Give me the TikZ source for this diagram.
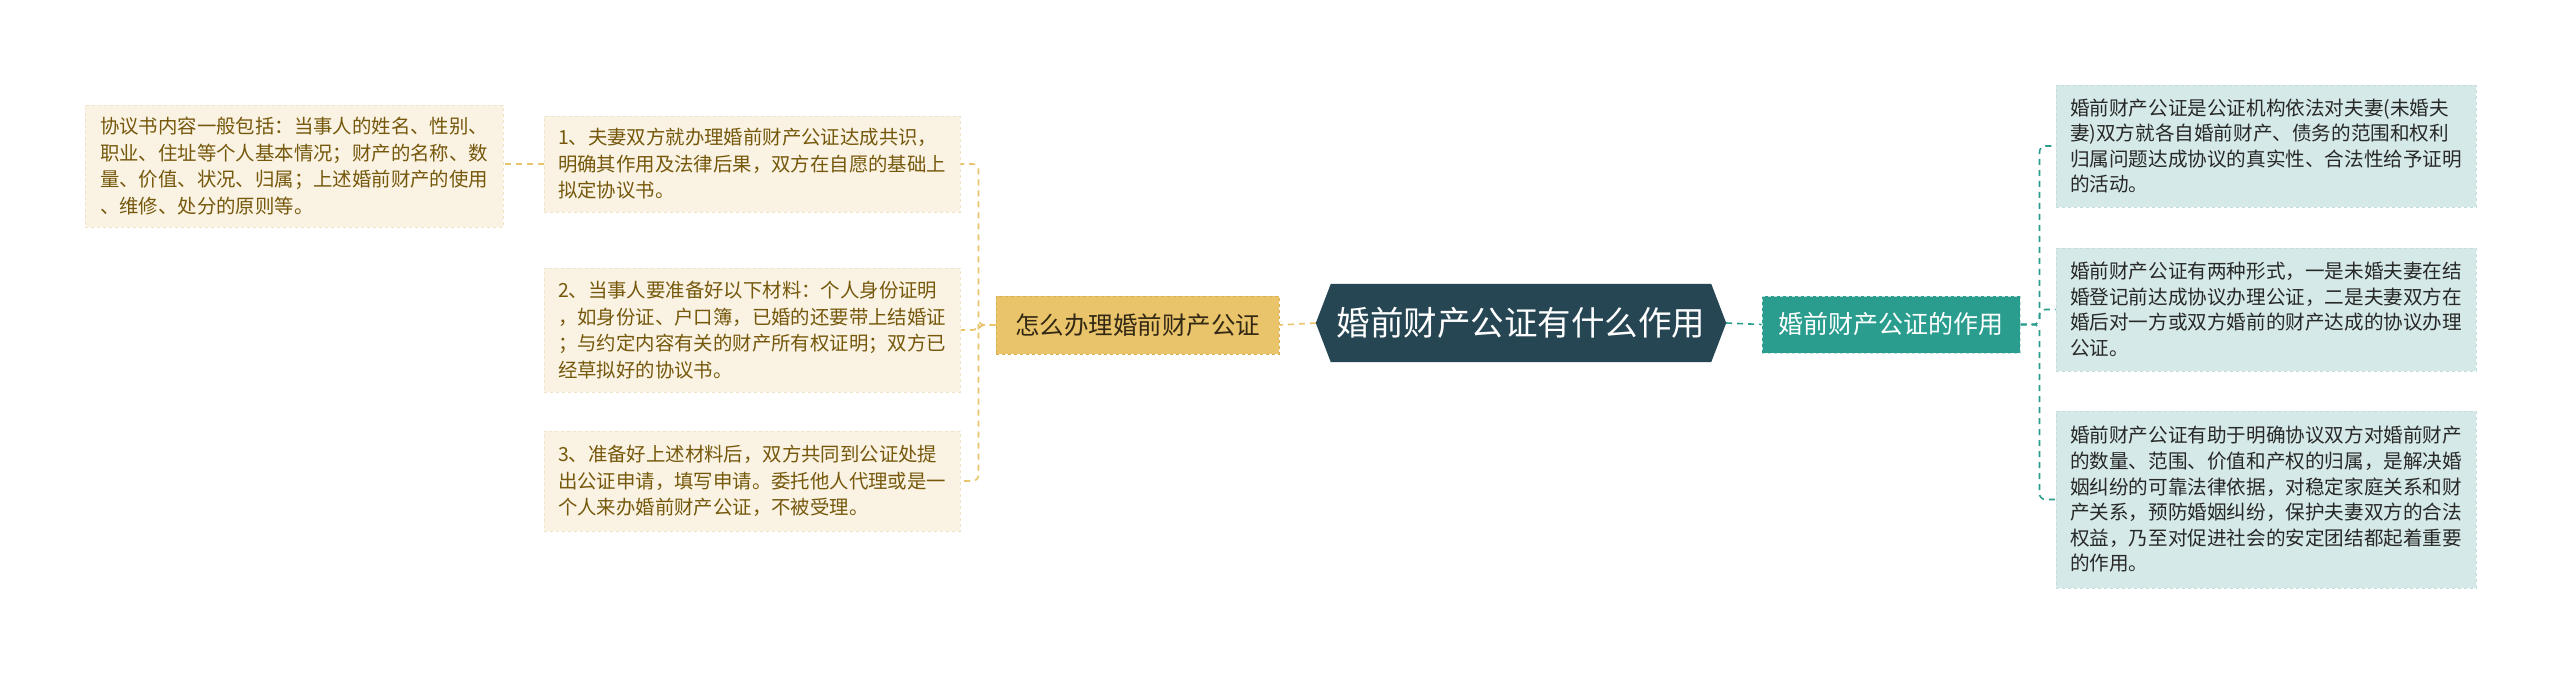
\documentclass[tikz,border=0pt]{standalone}
\usepackage{fontspec}
\setmainfont{Noto Sans CJK SC}
\usetikzlibrary{backgrounds}
\definecolor{rootc}{HTML}{264653}
\definecolor{tealc}{HTML}{2A9D8F}
\definecolor{yelc}{HTML}{E9C46A}
\definecolor{yelb}{HTML}{D9AE4E}
\definecolor{cream}{RGB}{250,243,227}
\definecolor{creamb}{RGB}{240,228,200}
\definecolor{ltext}{RGB}{118,88,12}
\definecolor{rfill}{RGB}{213,234,232}
\definecolor{rborder}{RGB}{195,222,219}
\definecolor{rtext}{RGB}{40,40,40}
\definecolor{ytext}{RGB}{50,40,20}
\begin{document}
\begin{tikzpicture}[x=1pt,y=-1pt,
  lbox/.style={fill=cream, draw=creamb, dashed, line width=1pt, text=ltext,
    font=\fontsize{19.4}{26.5}\selectfont, align=left, inner sep=0pt,
    minimum width=416pt},
  rbox/.style={fill=rfill, draw=rborder, dashed, line width=1pt, text=rtext,
    font=\fontsize{19.6}{25.6}\selectfont, align=left, inner sep=0pt,
    minimum width=420pt},
  yelnode/.style={fill=yelc, draw=yelb, dashed, line width=1pt, text=ytext,
    font=\fontsize{24.5}{28}\selectfont, inner sep=0pt,
    minimum width=283pt, minimum height=58pt},
  tealnode/.style={fill=tealc, draw=white!70!tealc, dashed, line width=1pt, text=white,
    font=\fontsize{25}{28}\selectfont, inner sep=0pt,
    minimum width=258pt, minimum height=57pt},
  rootnode/.style={text=white, font=\fontsize{33.5}{36}\selectfont, inner sep=0pt,
    minimum width=410pt, minimum height=78pt},
  lconn/.style={draw=yelc, dashed, line width=1.6pt, dash pattern=on 6pt off 5pt},
  rconn/.style={draw=tealc, dashed, line width=1.6pt, dash pattern=on 6pt off 5pt},
]
\useasboundingbox (0,0) rectangle (2560,675);

% root
\node[rootnode] (root) at (1521,323) {婚前财产公证有什么作用};
\begin{scope}[on background layer]
\fill[white] (0,0) rectangle (2560,675);
\fill[rootc] (root.west) -- ([xshift=15pt]root.north west) -- ([xshift=-15pt]root.north east)
  -- (root.east) -- ([xshift=-15pt]root.south east) -- ([xshift=15pt]root.south west) -- cycle;
\end{scope}

% left branch
\node[yelnode] (yel) at (1137.5,325) {怎么办理婚前财产公证};
\node[lbox, minimum height=96pt] (b1) at (752,164) {1、夫妻双方就办理婚前财产公证达成共识，\\明确其作用及法律后果，双方在自愿的基础上\\拟定协议书。};
\node[lbox, minimum height=124pt] (b2) at (752,330) {2、当事人要准备好以下材料：个人身份证明\\，如身份证、户口簿，已婚的还要带上结婚证\\；与约定内容有关的财产所有权证明；双方已\\经草拟好的协议书。};
\node[lbox, minimum height=100pt] (b3) at (752,481) {3、准备好上述材料后，双方共同到公证处提\\出公证申请，填写申请。委托他人代理或是一\\个人来办婚前财产公证，不被受理。};
\node[lbox, minimum width=418pt, minimum height=122pt] (lb) at (294,166) {协议书内容一般包括：当事人的姓名、性别、\\职业、住址等个人基本情况；财产的名称、数\\量、价值、状况、归属；上述婚前财产的使用\\、维修、处分的原则等。};

% right branch
\node[tealnode] (teal) at (1891,324.5) {婚前财产公证的作用};
\node[rbox, minimum height=122pt] (r1) at (2266,146) {婚前财产公证是公证机构依法对夫妻(未婚夫\\妻)双方就各自婚前财产、债务的范围和权利\\归属问题达成协议的真实性、合法性给予证明\\的活动。};
\node[rbox, minimum height=123pt] (r2) at (2266,309.5) {婚前财产公证有两种形式，一是未婚夫妻在结\\婚登记前达成协议办理公证，二是夫妻双方在\\婚后对一方或双方婚前的财产达成的协议办理\\公证。};
\node[rbox, minimum height=177pt] (r3) at (2266,499.5) {婚前财产公证有助于明确协议双方对婚前财产\\的数量、范围、价值和产权的归属，是解决婚\\姻纠纷的可靠法律依据，对稳定家庭关系和财\\产关系，预防婚姻纠纷，保护夫妻双方的合法\\权益，乃至对促进社会的安定团结都起着重要\\的作用。};

% connectors
\draw[lconn] (root.west) -- (yel.east);
\draw[rconn] (root.east) -- (teal.west);
\draw[lconn, rounded corners=6pt] (yel.west) -- ([xshift=-17pt]yel.west) |- (b1.east);
\draw[lconn, rounded corners=6pt] (yel.west) -- ([xshift=-17pt]yel.west) |- (b2.east);
\draw[lconn, rounded corners=6pt] (yel.west) -- ([xshift=-17pt]yel.west) |- (b3.east);
\draw[lconn] (b1.west) -- (lb.east |- b1.west);
\draw[rconn, rounded corners=6pt] (teal.east) -- ([xshift=19pt]teal.east) |- (r1.west);
\draw[rconn, rounded corners=6pt] (teal.east) -- ([xshift=19pt]teal.east) |- (r2.west);
\draw[rconn, rounded corners=6pt] (teal.east) -- ([xshift=19pt]teal.east) |- (r3.west);
\end{tikzpicture}
\end{document}
